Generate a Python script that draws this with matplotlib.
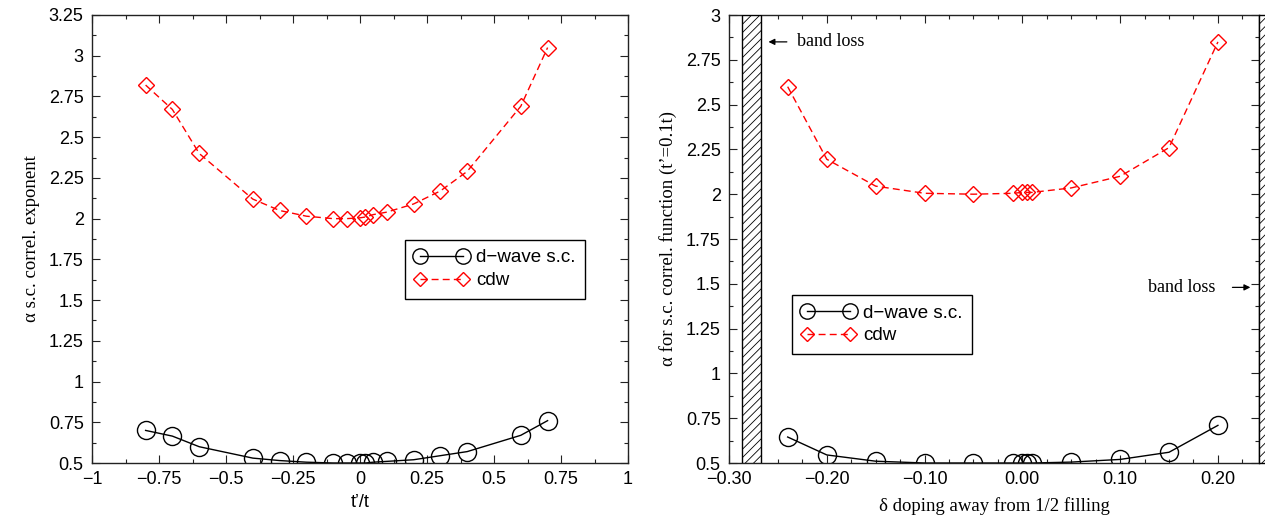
import matplotlib
matplotlib.use("Agg")
import matplotlib.pyplot as plt
from matplotlib.patches import Rectangle
from matplotlib.ticker import MultipleLocator

plt.rcParams['hatch.linewidth'] = 0.6

# ---- data: left panel ----
tp_t = [-0.8, -0.7, -0.6, -0.4, -0.3, -0.2, -0.1, -0.05, 0.0, 0.02, 0.05, 0.1, 0.2, 0.3, 0.4, 0.6, 0.7]
dwave_left = [0.70, 0.665, 0.60, 0.53, 0.515, 0.505, 0.50, 0.50, 0.50, 0.50, 0.505, 0.51, 0.52, 0.545, 0.57, 0.67, 0.76]
cdw_left = [2.82, 2.67, 2.40, 2.12, 2.05, 2.015, 2.00, 2.00, 2.005, 2.01, 2.025, 2.04, 2.09, 2.17, 2.29, 2.69, 3.05]

# ---- data: right panel ----
delta = [-0.24, -0.20, -0.15, -0.10, -0.05, -0.01, 0.0, 0.005, 0.01, 0.05, 0.10, 0.15, 0.20]
dwave_right = [0.645, 0.545, 0.51, 0.50, 0.50, 0.50, 0.50, 0.50, 0.50, 0.505, 0.52, 0.56, 0.71]
cdw_right = [2.60, 2.195, 2.045, 2.005, 2.00, 2.005, 2.01, 2.01, 2.01, 2.035, 2.10, 2.26, 2.85]

left_xticks = [-1, -0.75, -0.5, -0.25, 0, 0.25, 0.5, 0.75, 1]
left_xlabels = ["\u22121", "\u22120.75", "\u22120.5", "\u22120.25", "0", "0.25", "0.5", "0.75", "1"]
left_yticks = [0.5, 0.75, 1, 1.25, 1.5, 1.75, 2, 2.25, 2.5, 2.75, 3, 3.25]
left_ylabels = ["0.5", "0.75", "1", "1.25", "1.5", "1.75", "2", "2.25", "2.5", "2.75", "3", "3.25"]
right_xticks = [-0.3, -0.2, -0.1, 0.0, 0.1, 0.2]
right_xlabels = ["\u22120.30", "\u22120.20", "\u22120.10", "0.00", "0.10", "0.20"]
right_yticks = [0.5, 0.75, 1, 1.25, 1.5, 1.75, 2, 2.25, 2.5, 2.75, 3]
right_ylabels = ["0.5", "0.75", "1", "1.25", "1.5", "1.75", "2", "2.25", "2.5", "2.75", "3"]

SANS = "Liberation Sans"
SERIF = "Liberation Serif"
TICK_FS = 13

fig = plt.figure(figsize=(12.65, 5.15), dpi=100)
axL = fig.add_axes([92/1265, 1-463/515, (628-92)/1265, (463-15)/515])
axR = fig.add_axes([729/1265, 1-463/515, (1259-729)/1265, (463-15)/515])

def style(ax):
    for s in ax.spines.values():
        s.set_linewidth(1.0)
        s.set_color('#222222')
    ax.tick_params(which='both', direction='in', top=True, right=True, color='#222222')
    ax.tick_params(which='major', length=6, width=0.8)
    ax.tick_params(axis='x', which='major', pad=6)
    ax.tick_params(axis='y', which='major', pad=6)
    ax.tick_params(which='minor', length=3, width=0.8)
    for lab in ax.get_xticklabels() + ax.get_yticklabels():
        lab.set_family(SANS)
        lab.set_fontsize(TICK_FS)

mk_c = dict(marker='o', markersize=13, markerfacecolor='none', markeredgecolor='black', markeredgewidth=1.0)
mk_d = dict(marker='D', markersize=8.5, markerfacecolor='none', markeredgecolor='red', markeredgewidth=1.0)

leg_kw = dict(loc='upper left', numpoints=2, handlelength=2.9, fancybox=False, framealpha=1,
              edgecolor='black', prop={'family': SANS, 'size': 13.5}, markerscale=0.85,
              borderpad=0.5, labelspacing=0.3, handletextpad=0.4, borderaxespad=0)

# Left panel
axL.plot(tp_t, dwave_left, color='black', lw=1.0, label='d\u2212wave s.c.', **mk_c)
axL.plot(tp_t, cdw_left, color='red', lw=1.0, ls=(0, (5, 3)), label='cdw', **mk_d)
axL.set_xlim(-1, 1)
axL.set_ylim(0.5, 3.25)
axL.set_xticks(left_xticks)
axL.set_xticklabels(left_xlabels)
axL.set_yticks(left_yticks)
axL.set_yticklabels(left_ylabels)
axL.xaxis.set_minor_locator(MultipleLocator(0.125))
axL.yaxis.set_minor_locator(MultipleLocator(0.125))
style(axL)
axL.set_xlabel("t\u2019/t", family=SANS, fontsize=13, labelpad=4)
axL.set_ylabel("\u03b1 s.c. correl. exponent", family=SERIF, fontsize=13.5, labelpad=6)
legL = axL.legend(bbox_to_anchor=((405-92)/536, (463-240)/448), **leg_kw)
legL.get_frame().set_linewidth(1.0)

# Right panel
axR.plot(delta, dwave_right, color='black', lw=1.0, label='d\u2212wave s.c.', **mk_c)
axR.plot(delta, cdw_right, color='red', lw=1.0, ls=(0, (5, 3)), label='cdw', **mk_d)
axR.set_xlim(-0.30, 0.242)
axR.set_ylim(0.5, 3.0)
axR.set_xticks(right_xticks)
axR.set_xticklabels(right_xlabels)
axR.set_yticks(right_yticks)
axR.set_yticklabels(right_ylabels)
axR.xaxis.set_minor_locator(MultipleLocator(0.025))
axR.yaxis.set_minor_locator(MultipleLocator(0.125))
style(axR)
axR.set_xlabel("\u03b4 doping away from 1/2 filling", family=SERIF, fontsize=13.5, labelpad=6)
axR.set_ylabel("\u03b1 for s.c. correl. function (t\u2019=0.1t)", family=SERIF, fontsize=13.5, labelpad=6)
legR = axR.legend(bbox_to_anchor=((792-729)/530, (463-295)/448), **leg_kw)
legR.get_frame().set_linewidth(1.0)

# band-loss hatched regions
axR.add_patch(Rectangle((-0.2865, 0.5), 0.0195, 2.5, facecolor='white', edgecolor='black',
                        hatch='////', lw=1.0, zorder=3))
axR.add_patch(Rectangle((0.242, 0.5), 0.03, 2.5, facecolor='white', edgecolor='black',
                        hatch='////', lw=1.0, zorder=3, clip_on=False))

axR.annotate("", xy=(-0.2625, 2.85), xytext=(-0.238, 2.85),
             arrowprops=dict(arrowstyle='-|>', lw=0.9, color='black', mutation_scale=9))
axR.text(-0.230, 2.85, "band loss", family=SERIF, fontsize=13, va='center', ha='left')
axR.annotate("", xy=(0.236, 1.48), xytext=(0.212, 1.48),
             arrowprops=dict(arrowstyle='-|>', lw=0.9, color='black', mutation_scale=9))
axR.text(0.197, 1.48, "band loss", family=SERIF, fontsize=13, va='center', ha='right')

fig.savefig("out.png", dpi=100)
